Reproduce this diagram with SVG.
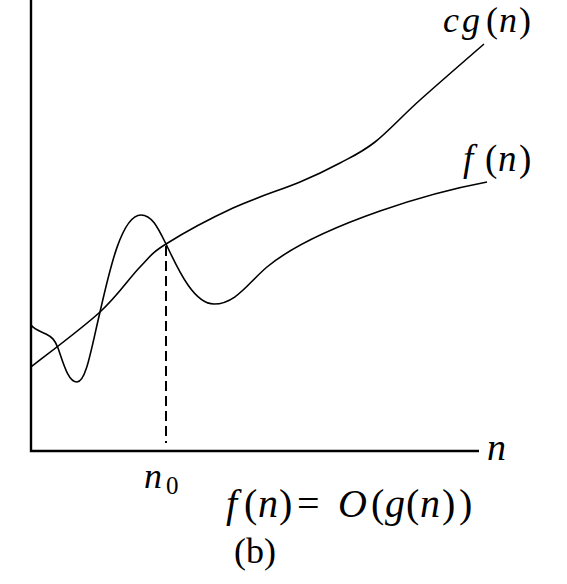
<svg xmlns="http://www.w3.org/2000/svg" width="567" height="584" viewBox="0 0 567 584">
<style>
.ax{stroke:#000;stroke-width:2.4;fill:none}
.cv{stroke:#000;stroke-width:1.6;fill:none}
.dash{stroke:#000;stroke-width:2;stroke-dasharray:10,5;fill:none}
text{font-family:"Liberation Serif","Times New Roman",serif;fill:#000}
.i{font-style:italic}
</style>
<rect width="567" height="584" fill="#fff"/>
<g id="axes">
<path class="ax" d="M31,0 V451 H479"/>
</g>
<g id="connectors">
<path id="cg-curve" class="cv" d="M31,367 C42.5,357.8 81.8,328.7 100,312 C118.2,295.3 129,278.3 140,267 C151,255.7 150.5,253.8 166,244 C181.5,234.2 210.7,218.3 233,208 C255.3,197.7 282.2,189.5 300,182 C317.8,174.5 327.5,169.7 340,163 C352.5,156.3 361.7,152.5 375,142 C388.3,131.5 401.8,116.3 420,100 C438.2,83.7 473.3,53.3 484,44"/>
<path id="f-curve" class="cv" d="M31,325 C35,330 40,331 46,334 C52,337 55,340 58,348 C63,362 68,382 77,382 C86,382 91,350 100,312 C110,268 122,215 141,215 C152,215 158,228 166,244 C175,262 192,304 214,304 C236,304 248,283 267,267 C285,252 320,232 380,211 C420,197 455,188 487,182"/>
<path id="n0-line" class="dash" d="M166,246 V443"/>
</g>
<g id="label-cg">
<text y="32" font-size="36"><tspan class="i" x="443">c</tspan><tspan class="i" x="462">g</tspan><tspan x="486">(</tspan><tspan class="i" x="499">n</tspan><tspan x="519">)</tspan></text>
</g>
<g id="label-f">
<text y="171" font-size="37"><tspan class="i" x="463">f</tspan><tspan x="485">(</tspan><tspan class="i" x="498">n</tspan><tspan x="519">)</tspan></text>
</g>
<g id="label-n-axis">
<text class="i" x="487" y="460" font-size="38">n</text>
</g>
<g id="label-n0">
<text y="488"><tspan class="i" x="144" font-size="36">n</tspan><tspan x="166" y="494" font-size="25">0</tspan></text>
</g>
<g id="formula">
<text y="517" font-size="40"><tspan class="i" x="226">f</tspan><tspan x="244">(</tspan><tspan class="i" x="258">n</tspan><tspan x="279">)</tspan><tspan x="297">=</tspan><tspan class="i" x="338">O</tspan><tspan x="371">(</tspan><tspan class="i" x="385">g</tspan><tspan x="406">(</tspan><tspan class="i" x="420">n</tspan><tspan x="442">)</tspan><tspan x="459">)</tspan></text>
</g>
<g id="caption">
<text x="234" y="563" font-size="36">(b)</text>
</g>
</svg>
